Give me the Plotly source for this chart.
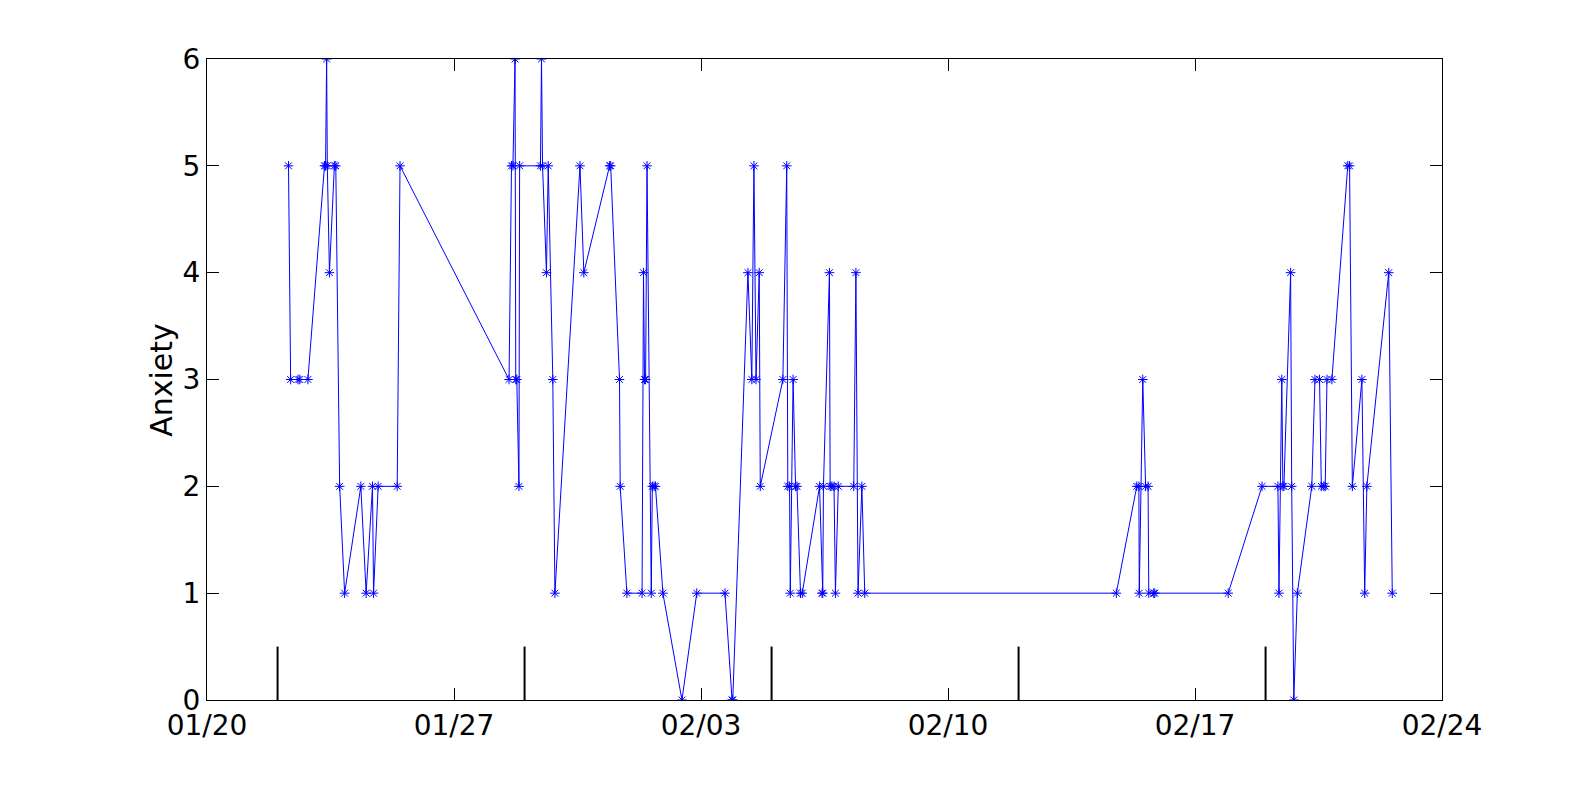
import plotly.graph_objects as go

# Observation timestamps and anxiety scores
timestamps = [
    "2014-01-22 07:26", "2014-01-22 08:53", "2014-01-22 13:55", "2014-01-22 15:07", "2014-01-22 20:38",
    "2014-01-23 07:55", "2014-01-23 08:38", "2014-01-23 09:22", "2014-01-23 09:50", "2014-01-23 11:17",
    "2014-01-23 14:38", "2014-01-23 15:36", "2014-01-23 18:14", "2014-01-23 21:36",
    "2014-01-24 08:38", "2014-01-24 12:14", "2014-01-24 16:34", "2014-01-24 17:17", "2014-01-24 20:24",
    "2014-01-25 09:22", "2014-01-25 11:17",
    "2014-01-28 13:26", "2014-01-28 15:07", "2014-01-28 16:05", "2014-01-28 17:31", "2014-01-28 18:00",
    "2014-01-28 18:43", "2014-01-28 20:10", "2014-01-28 20:38",
    "2014-01-29 10:48", "2014-01-29 11:31", "2014-01-29 12:14", "2014-01-29 14:53", "2014-01-29 16:05",
    "2014-01-29 19:12", "2014-01-29 20:38",
    "2014-01-30 13:41", "2014-01-30 16:19",
    "2014-01-31 09:50", "2014-01-31 10:34", "2014-01-31 16:34", "2014-01-31 17:02", "2014-01-31 21:36",
    "2014-02-01 07:55", "2014-02-01 08:53", "2014-02-01 09:36", "2014-02-01 10:19", "2014-02-01 11:17",
    "2014-02-01 14:10", "2014-02-01 14:53", "2014-02-01 16:05", "2014-02-01 17:02", "2014-02-01 22:05",
    "2014-02-02 11:02", "2014-02-02 21:07",
    "2014-02-03 16:19", "2014-02-03 21:07", "2014-02-03 21:36",
    "2014-02-04 07:55", "2014-02-04 10:34", "2014-02-04 12:00", "2014-02-04 13:26", "2014-02-04 15:36",
    "2014-02-04 16:19",
    "2014-02-05 07:41", "2014-02-05 10:19", "2014-02-05 11:02", "2014-02-05 12:14", "2014-02-05 12:43",
    "2014-02-05 14:38", "2014-02-05 16:19", "2014-02-05 17:17", "2014-02-05 19:41", "2014-02-05 20:53",
    "2014-02-06 08:38", "2014-02-06 10:19", "2014-02-06 10:48", "2014-02-06 11:17", "2014-02-06 15:22",
    "2014-02-06 15:50", "2014-02-06 17:02", "2014-02-06 18:29", "2014-02-06 19:26", "2014-02-06 21:22",
    "2014-02-07 07:55", "2014-02-07 09:22", "2014-02-07 10:48", "2014-02-07 13:26", "2014-02-07 15:22",
    "2014-02-14 18:29",
    "2014-02-15 08:24", "2014-02-15 09:50", "2014-02-15 10:05", "2014-02-15 12:29", "2014-02-15 14:24",
    "2014-02-15 16:05", "2014-02-15 16:34", "2014-02-15 19:55", "2014-02-15 20:38",
    "2014-02-17 22:34", "2014-02-18 21:36",
    "2014-02-19 08:24", "2014-02-19 09:07", "2014-02-19 11:02", "2014-02-19 11:46", "2014-02-19 12:29",
    "2014-02-19 17:02", "2014-02-19 17:46", "2014-02-19 19:12", "2014-02-19 21:36",
    "2014-02-20 07:26", "2014-02-20 09:36", "2014-02-20 12:43", "2014-02-20 13:55", "2014-02-20 15:36",
    "2014-02-20 16:34", "2014-02-20 17:46", "2014-02-20 21:07",
    "2014-02-21 07:55", "2014-02-21 09:07", "2014-02-21 11:02", "2014-02-21 17:31", "2014-02-21 19:26",
    "2014-02-21 20:53",
    "2014-02-22 11:46", "2014-02-22 14:10",
]
anxiety = [
    5, 3, 3, 3, 3,
    5, 5, 6, 5, 4,
    5, 5, 2, 1,
    2, 1, 2, 1, 2,
    2, 5,
    3, 5, 5, 6, 3,
    3, 2, 5,
    5, 6, 5, 4, 5,
    3, 1,
    5, 4,
    5, 5, 3, 2, 1,
    1, 4, 3, 3, 5,
    1, 2, 2, 2, 1,
    0, 1,
    1, 0, 0,
    4, 3, 5, 3, 4,
    2,
    3, 5, 2, 2, 1,
    3, 2, 2, 1, 1,
    2, 1, 1, 2, 4,
    2, 2, 2, 1, 2,
    2, 4, 1, 2, 1,
    1,
    2, 2, 1, 3, 2,
    2, 1, 1, 1,
    1, 2,
    2, 1, 3, 2, 2,
    4, 2, 0, 1,
    2, 3, 3, 2, 2,
    2, 3, 3,
    5, 5, 2, 3, 1,
    2,
    4, 1,
]

# Weekly marker bars (date, height)
week_marks = ["2014-01-22", "2014-01-29", "2014-02-05", "2014-02-12", "2014-02-19"]
week_mark_height = 0.5

x_tick_vals = ["2014-01-20", "2014-01-27", "2014-02-03", "2014-02-10", "2014-02-17", "2014-02-24"]
x_tick_text = ["01/20", "01/27", "02/03", "02/10", "02/17", "02/24"]
y_tick_vals = [0, 1, 2, 3, 4, 5, 6]

FONT = "DejaVu Sans"

bar_x, bar_y = [], []
for d in week_marks:
    bar_x += [d, d, None]
    bar_y += [0, week_mark_height, None]

fig = go.Figure()
fig.add_trace(go.Scatter(
    x=bar_x, y=bar_y, mode="lines",
    line=dict(color="black", width=2),
    showlegend=False, hoverinfo="skip",
))
fig.add_trace(go.Scatter(
    x=timestamps, y=anxiety, mode="lines+markers",
    line=dict(color="#0000FF", width=1),
    marker=dict(symbol="asterisk-open", size=8, color="#0000FF",
                line=dict(color="#0000FF", width=1)),
    showlegend=False,
))

axis_common = dict(
    showline=True, linecolor="black", linewidth=1, mirror="ticks",
    ticks="inside", ticklen=12, tickwidth=1, tickcolor="black",
    showgrid=False, zeroline=False,
    tickfont=dict(family=FONT, size=28, color="black"),
)

fig.update_layout(
    width=1595, height=792,
    margin=dict(l=199, r=161, t=51, b=100),
    paper_bgcolor="white", plot_bgcolor="white",
    xaxis=dict(
        type="date",
        range=[x_tick_vals[0], x_tick_vals[-1]],
        tickvals=x_tick_vals, ticktext=x_tick_text,
        **axis_common,
    ),
    yaxis=dict(
        range=[0, 6],
        tickvals=y_tick_vals,
        **axis_common,
    ),
    annotations=[dict(
        text="Anxiety", textangle=-90,
        xref="paper", yref="paper",
        x=-0.037, y=0.5, xanchor="center", yanchor="middle",
        showarrow=False,
        font=dict(family=FONT, size=30, color="black"),
    )],
)

fig.write_html("out.html")
